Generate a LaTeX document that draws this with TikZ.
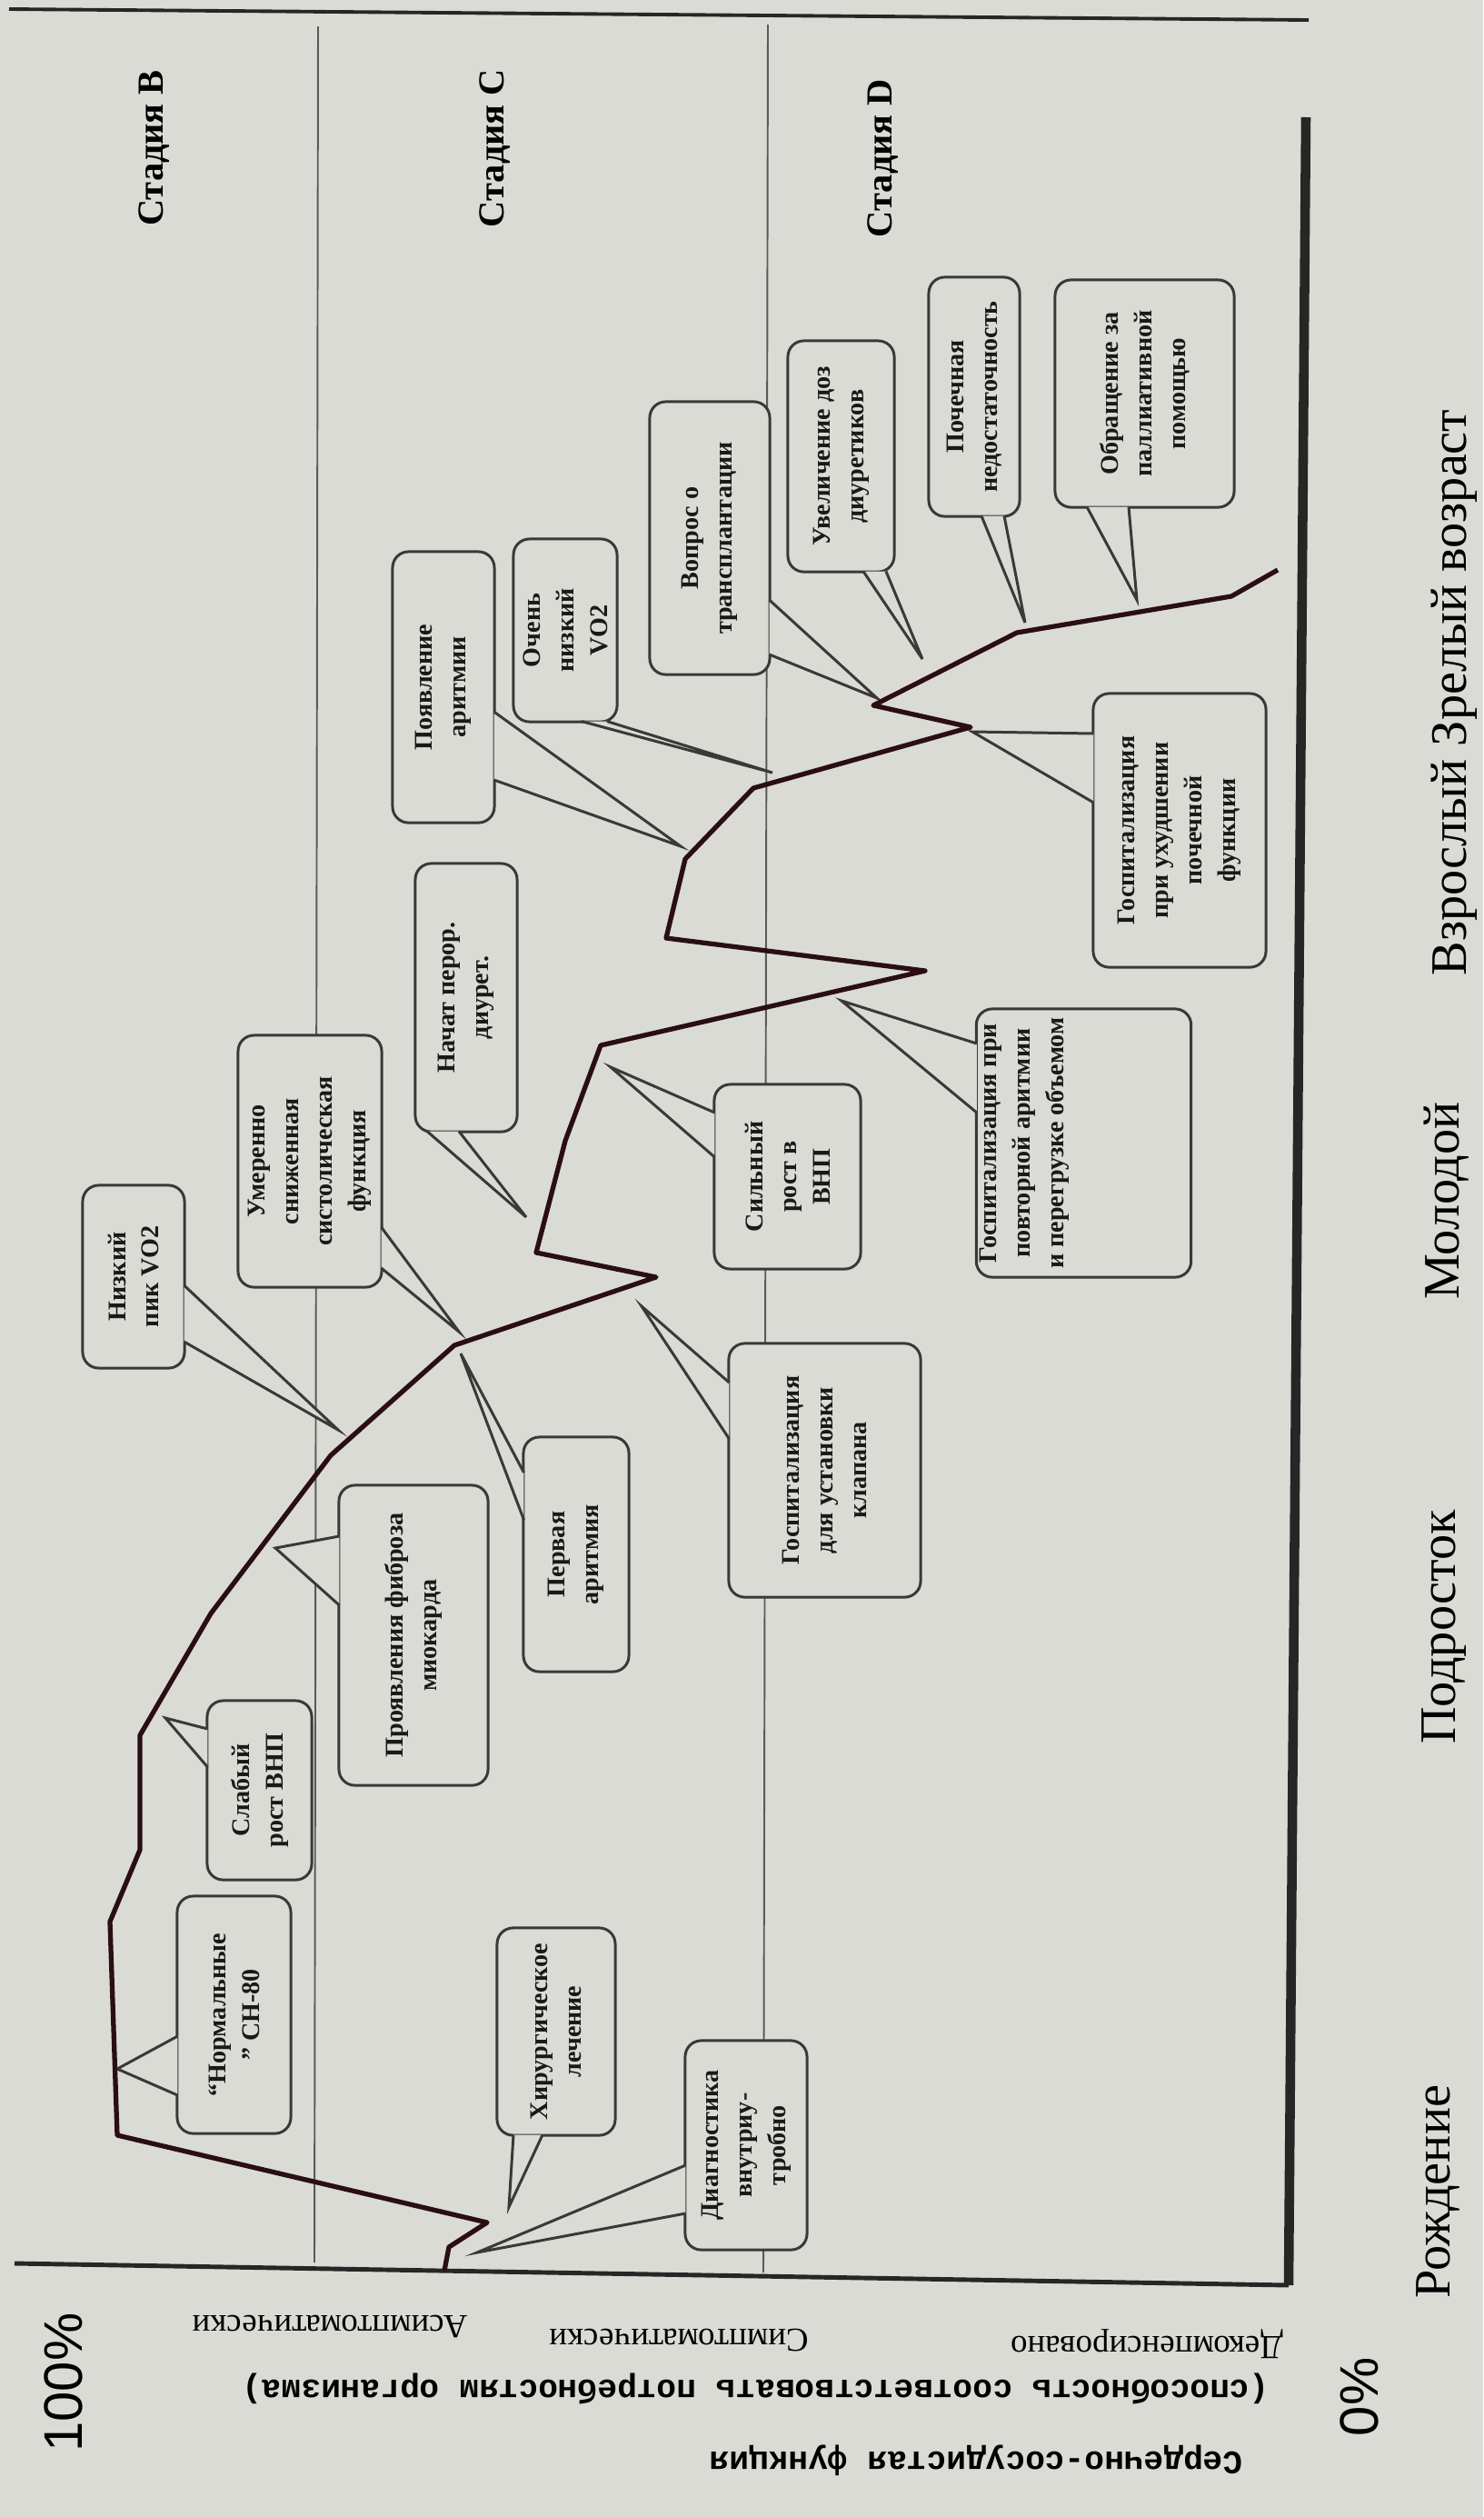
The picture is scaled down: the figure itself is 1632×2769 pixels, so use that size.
\documentclass[tikz,border=0pt]{standalone}
\usepackage{fontspec}
\setmainfont{Liberation Serif}
\setsansfont{Liberation Sans}
\setmonofont{Liberation Mono}
\usetikzlibrary{calc}

\definecolor{paper}{RGB}{219,219,214}
\definecolor{ink}{RGB}{58,56,56}
\definecolor{curvered}{RGB}{42,14,20}

\begin{document}
\begin{tikzpicture}[x=0.01cm, y=-0.01cm,
    bubble/.style={draw=ink, fill=paper, line width=0.85pt, rounded corners=5pt, rotate=90,
      inner sep=1pt, align=center, text=black!90, font=\fontsize{8}{10.5}\selectfont\bfseries},
    tail/.style={draw=ink, fill=paper, line width=0.85pt},
    curveline/.style={draw=curvered, line width=1.5pt, line join=round},
    stage/.style={rotate=90, font=\fontsize{11.5}{13}\selectfont\bfseries},
    age/.style={rotate=90, font=\fontsize{16}{18}\selectfont},
    level/.style={rotate=180, font=\fontsize{10.5}{12}\selectfont},
    ytitle/.style={rotate=180, anchor=west, font=\fontsize{10.3}{12}\selectfont\ttfamily\bfseries},
    pct/.style={rotate=90, font=\fontsize{17}{19}\selectfont\sffamily}]
  \useasboundingbox (0,0) rectangle (1632,2769);
  \fill[paper] (0,0) rectangle (1632,2769);

  % page rule, stage borders, axes
  \draw[line width=1.1pt, black!85] (10,10) -- (1440,22);
  \draw[black!65, line width=0.55pt] (350,29) -- (346,2489);
  \draw[black!65, line width=0.55pt] (845,27) -- (840,2500);
  \draw[line width=1.4pt, black!85] (16,2490) -- (1418,2514);
  \draw[line width=3pt, black!85] (1418,2514) -- (1437,129);

  % callouts
  \node[bubble, minimum width=2.61cm, minimum height=1.25cm] (norm) at (257.5,2216.5) {“Нормальные\\” СН-80};
  \coordinate (norm-tip) at (129,2276);
  \filldraw[tail] ($(norm.north)+(2,23.5)$) -- (norm-tip) -- ($(norm.north)+(2,88.5)$);

  \node[bubble, minimum width=2.28cm, minimum height=1.30cm] (surg) at (612,2235) {Хирургическое\\лечение};
  \coordinate (surg-tip) at (560,2428);
  \filldraw[tail] ($(surg.west)+(-47,-2)$) -- (surg-tip) -- ($(surg.west)+(-15,-2)$);

  \node[bubble, minimum width=2.30cm, minimum height=1.34cm] (diag) at (821,2360) {Диагностика\\внутриу-\\тробно};
  \coordinate (diag-tip) at (525,2478);
  \filldraw[tail] ($(diag.north)+(2,22)$) -- (diag-tip) -- ($(diag.north)+(2,75)$);

  \node[bubble, minimum width=1.97cm, minimum height=1.15cm] (weak) at (285.5,1969.5) {Слабый\\рост ВНП};
  \coordinate (weak-tip) at (182,1890);
  \filldraw[tail] ($(weak.north)+(2,-67.5)$) -- (weak-tip) -- ($(weak.north)+(2,-25.5)$);

  \node[bubble, minimum width=3.30cm, minimum height=1.64cm] (fibr) at (455,1799) {Проявления фиброза\\миокарда};
  \coordinate (fibr-tip) at (303,1703);
  \filldraw[tail] ($(fibr.north)+(2,-109)$) -- (fibr-tip) -- ($(fibr.north)+(2,-33)$);

  \node[bubble, minimum width=2.01cm, minimum height=1.12cm] (lowpk) at (147,1404.5) {Низкий\\пик VO2};
  \coordinate (lowpk-tip) at (372,1573);
  \filldraw[tail] ($(lowpk.south)+(-2,9.5)$) -- (lowpk-tip) -- ($(lowpk.south)+(-2,71.5)$);

  \node[bubble, minimum width=2.77cm, minimum height=1.58cm] (moder) at (341,1277.5) {Умеренно\\сниженная\\систолическая\\функция};
  \coordinate (moder-tip) at (505,1465);
  \filldraw[tail] ($(moder.south)+(-2,72.5)$) -- (moder-tip) -- ($(moder.south)+(-2,117.5)$);

  \node[bubble, minimum width=2.58cm, minimum height=1.16cm] (first) at (634,1710) {Первая\\аритмия};
  \coordinate (first-tip) at (507,1489);
  \filldraw[tail] ($(first.north)+(2,-90)$) -- (first-tip) -- ($(first.north)+(2,-38)$);

  \node[bubble, minimum width=2.79cm, minimum height=2.11cm] (valve) at (907.5,1617.5) {Госпитализация\\для установки\\клапана};
  \coordinate (valve-tip) at (706,1437);
  \filldraw[tail] ($(valve.north)+(2,-96.5)$) -- (valve-tip) -- ($(valve.north)+(2,-34.5)$);

  \node[bubble, minimum width=2.95cm, minimum height=1.12cm] (diur) at (513,1097.5) {Начат перор.\\диурет.};
  \coordinate (diur-tip) at (579,1339);
  \filldraw[tail] ($(diur.west)+(-43,-2)$) -- (diur-tip) -- ($(diur.west)+(-8,-2)$);

  \node[bubble, minimum width=2.03cm, minimum height=1.61cm] (strong) at (866.5,1294.5) {Сильный\\рост в\\ВНП};
  \coordinate (strong-tip) at (672,1174);
  \filldraw[tail] ($(strong.north)+(2,-70.5)$) -- (strong-tip) -- ($(strong.north)+(2,-21.5)$);

  \node[bubble, minimum width=2.98cm, minimum height=1.12cm] (arrh) at (488,756) {Появление\\аритмии};
  \coordinate (arrh-tip) at (749,931);
  \filldraw[tail] ($(arrh.south)+(-2,27)$) -- (arrh-tip) -- ($(arrh.south)+(-2,102)$);

  \node[bubble, minimum width=2.95cm, text depth=1.37cm] (rehosp) at (1192.5,1257.5) {Госпитализация при\\повторной аритмии\\и перегрузке объемом};
  \coordinate (rehosp-tip) at (926,1101);
  \filldraw[tail] ($(rehosp.north)+(2,-109.5)$) -- (rehosp-tip) -- ($(rehosp.north)+(2,-33.5)$);

  \node[bubble, minimum width=2.01cm, minimum height=1.14cm] (vlow) at (622,693.5) {Очень\\низкий\\VO2};
  \coordinate (vlow-tip) at (850,850);
  \filldraw[tail] ($(vlow.west)+(18,-2)$) -- (vlow-tip) -- ($(vlow.west)+(46,-2)$);

  \node[bubble, minimum width=3.00cm, minimum height=1.32cm] (transpl) at (781,592) {Вопрос о\\трансплантации};
  \coordinate (transpl-tip) at (965,768);
  \filldraw[tail] ($(transpl.south)+(-2,68)$) -- (transpl-tip) -- ($(transpl.south)+(-2,128)$);

  \node[bubble, minimum width=2.54cm, minimum height=1.17cm] (dose) at (925.5,502) {Увеличение доз\\диуретиков};
  \coordinate (dose-tip) at (1015,725);
  \filldraw[tail] ($(dose.west)+(24.5,-2)$) -- (dose-tip) -- ($(dose.west)+(49.5,-2)$);

  \node[bubble, minimum width=3.01cm, minimum height=1.90cm] (kidney) at (1298,913.5) {Госпитализация\\при ухудшении\\почечной\\функции};
  \coordinate (kidney-tip) at (1070,805);
  \filldraw[tail] ($(kidney.north)+(2,-106.5)$) -- (kidney-tip) -- ($(kidney.north)+(2,-30.5)$);

  \node[bubble, minimum width=2.63cm, minimum height=1.00cm] (renal) at (1072,436.5) {Почечная\\недостаточность};
  \coordinate (renal-tip) at (1128,685);
  \filldraw[tail] ($(renal.west)+(8,-2)$) -- (renal-tip) -- ($(renal.west)+(33,-2)$);

  \node[bubble, minimum width=2.50cm, minimum height=1.97cm] (pall) at (1259.5,433) {Обращение за\\паллиативной\\помощью};
  \coordinate (pall-tip) at (1251,660);
  \filldraw[tail] ($(pall.west)+(-63.5,-2)$) -- (pall-tip) -- ($(pall.west)+(-17.5,-2)$);

  % course of cardiovascular function
  \draw[curveline] (489,2498) -- (494,2472) -- (536,2445) -- (129,2349) -- (121,2114) -- (154,2035)
    -- (154,1909) -- (232,1775) -- (364,1601) -- (500,1480) -- (722,1405) -- (590,1378) -- (622,1255)
    -- (661,1150) -- (1018,1068) -- (733,1032) -- (754,945) -- (829,867) -- (1068,800) -- (961,776)
    -- (1119,696) -- (1355,656) -- (1406,627);

  % stages and ages
  \node[stage] (stB) at (170,163) {Стадия B};
  \node[stage] (stC) at (545,163) {Стадия C};
  \node[stage] (stD) at (972,174) {Стадия D};
  \node[age] (birth) at (1583,2411) {Рождение};
  \node[age] (teen) at (1589,1790) {Подросток};
  \node[age] (young) at (1592,1321) {Молодой};
  \node[age] (adult) at (1600,762) {Взрослый Зрелый возраст};

  % function axis
  \node[level] (asym) at (363,2559) {Асимптоматически};
  \node[level] (sym) at (747,2575) {Симптоматически};
  \node[level] (decomp) at (1262,2579) {Декомпенсировано};
  \node[ytitle] (ability) at (1409,2628) {(способность соответствовать потребностям организма)};
  \node[ytitle] (cvf) at (1380,2707) {Сердечно-сосудистая функция};
  \node[pct] (full) at (70,2621) {100\%};
  \node[pct] (zero) at (1496,2637) {0\%};
\end{tikzpicture}
\end{document}
